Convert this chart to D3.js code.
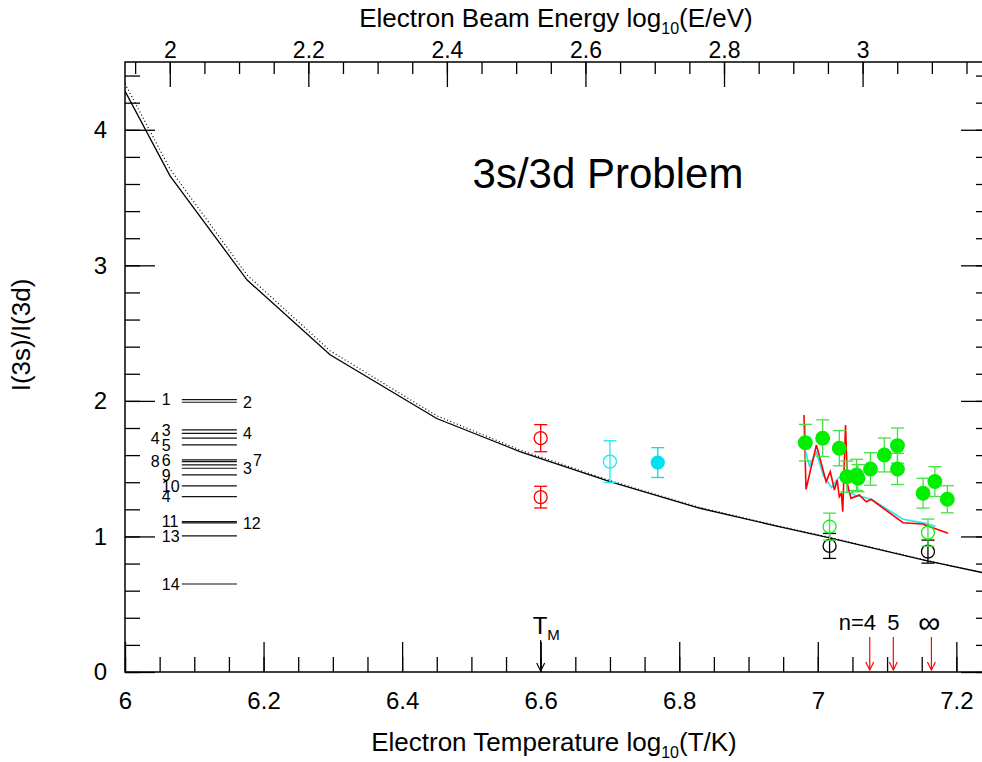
<!DOCTYPE html>
<html>
<head>
<meta charset="utf-8">
<script src="https://cdn.jsdelivr.net/npm/d3@7"></script>
<style>
body { margin: 0; background: #fff; }
text { font-family: "Liberation Sans", Arial, sans-serif; fill: #000; }
</style>
</head>
<body>
<script>
// tick labels
var bottomTicks = [6, 6.2, 6.4, 6.6, 6.8, 7, 7.2];
var topTicks = [2, 2.2, 2.4, 2.6, 2.8, 3];
var leftTicks = [0, 1, 2, 3, 4];

// model curves (log T, ratio)
var modelT = [6.0, 6.065, 6.176, 6.296, 6.45, 6.57, 6.7, 6.83, 6.944, 7.017, 7.158, 7.25];
var modelSolid = [4.285, 3.66, 2.893, 2.34, 1.87, 1.626, 1.404, 1.208, 1.072, 0.99, 0.82, 0.72];
var modelDotted = [4.34, 3.71, 2.93, 2.37, 1.89, 1.638, 1.412, 1.213, 1.076, 0.993, 0.822, 0.72];

var redT = [6.980, 6.983, 6.998, 7.012, 7.018, 7.024, 7.028, 7.031, 7.034, 7.036, 7.040, 7.043, 7.048, 7.060, 7.070, 7.077, 7.123, 7.151, 7.188];
var redV = [1.896, 1.348, 1.675, 1.404, 1.478, 1.343, 1.416, 1.293, 1.318, 1.183, 1.822, 1.379, 1.281, 1.306, 1.256, 1.274, 1.101, 1.092, 1.023];
var cyanT = [6.981, 6.988, 6.998, 7.008, 7.020, 7.028, 7.040, 7.044, 7.055, 7.070, 7.080, 7.123, 7.152, 7.170];
var cyanV = [1.65, 1.52, 1.62, 1.45, 1.36, 1.42, 1.48, 1.33, 1.30, 1.285, 1.265, 1.127, 1.10, 1.075];

// measurements
var redOpenT = [6.6, 6.6], redOpenV = [1.725, 1.29], redOpenE = [0.1, 0.08];
var cyanOpenT = [6.7], cyanOpenV = [1.552], cyanOpenE = [0.154];
var cyanFillT = [6.769], cyanFillV = [1.545], cyanFillE = [0.11];
var greenFillT = [6.982, 7.007, 7.031, 7.042, 7.056, 7.058, 7.076, 7.096, 7.115, 7.115, 7.152, 7.169, 7.187];
var greenFillV = [1.692, 1.725, 1.651, 1.441, 1.454, 1.43, 1.498, 1.601, 1.67, 1.498, 1.319, 1.405, 1.274];
var greenFillE = [0.135, 0.135, 0.13, 0.115, 0.115, 0.1, 0.12, 0.125, 0.13, 0.115, 0.11, 0.11, 0.10];
var greenOpenT = [7.017, 7.159], greenOpenV = [1.072, 1.028], greenOpenE = [0.1, 0.1];
var blackOpenT = [7.017, 7.159], blackOpenV = [0.93, 0.888], blackOpenE = [0.092, 0.085];

// calculated ratios shown as short level lines
var levelNames = ["1", "2", "3", "4", "4", "5", "6", "8", "7", "3", "9", "10", "4", "11", "12", "13", "14"];
var levelValues = [2.01, 1.99, 1.786, 1.76, 1.725, 1.675, 1.565, 1.552, 1.528, 1.503, 1.454, 1.373, 1.294, 1.11, 1.10, 1.004, 0.649];
var levelSides = ["L", "R", "L", "R", "L", "L", "L", "L", "R", "R", "L", "L", "L", "L", "R", "L", "L"];
var levelSpan = [6.082, 6.1615];

// series limits
var seriesNames = ["4", "5", "\u221e"];
var seriesT = [7.075, 7.109, 7.164];
var tMax = 6.6;

var logK = Math.log10(8.617333e-5); // E = kT

var svg = d3.select("body").append("svg")//
.attr("width", 982)//
.attr("height", 762);

var x = d3.scaleLinear().domain([6, 7.25]).range([125, 991]);
var xTop = d3.scaleLinear().domain([6 + logK, 7.25 + logK]).range([125, 991]);
var y = d3.scaleLinear().domain([0, 4.5]).range([672, 62]);

var fmt = d3.format("~g");

function styleAxis(g, size) {
	g.select(".domain").remove();
	g.selectAll(".tick line").attr("stroke", "#000").attr("stroke-width", 1.3);
	g.selectAll(".tick text").attr("font-size", size + "px").attr("fill", "#000")//
	.attr("font-family", "'Liberation Sans', Arial, sans-serif");
}

// bottom
svg.append("g").attr("transform", "translate(0,672)")//
.call(d3.axisBottom(x).tickValues(x.ticks(25)).tickSize(-15).tickFormat(""))//
.call(styleAxis, 24);
svg.append("g").attr("transform", "translate(0,672)")//
.call(d3.axisBottom(x).tickValues(bottomTicks).tickSize(-30).tickPadding(20).tickFormat(fmt))//
.call(styleAxis, 24);
// top
svg.append("g").attr("transform", "translate(0,62)")//
.call(d3.axisTop(xTop).tickValues(xTop.ticks(25)).tickSize(-12).tickFormat(""))//
.call(styleAxis, 23);
svg.append("g").attr("transform", "translate(0,62)")//
.call(d3.axisTop(xTop).tickValues(topTicks).tickSize(-25).tickPadding(4).tickFormat(fmt))//
.call(styleAxis, 23);
// left
svg.append("g").attr("transform", "translate(125,0)")//
.call(d3.axisLeft(y).tickValues(y.ticks(20)).tickSize(-15).tickFormat(""))//
.call(styleAxis, 24);
svg.append("g").attr("transform", "translate(125,0)")//
.call(d3.axisLeft(y).tickValues(leftTicks).tickSize(-30).tickPadding(18).tickFormat(fmt))//
.call(styleAxis, 24);
// right
svg.append("g").attr("transform", "translate(991,0)")//
.call(d3.axisRight(y).tickValues(y.ticks(20)).tickSize(-15).tickFormat(""))//
.call(styleAxis, 24);
svg.append("g").attr("transform", "translate(991,0)")//
.call(d3.axisRight(y).tickValues(leftTicks).tickSize(-30).tickFormat(""))//
.call(styleAxis, 24);

svg.append("rect")//
.attr("x", x(6)).attr("y", y(4.5))//
.attr("width", x(7.25) - x(6)).attr("height", y(0) - y(4.5))//
.attr("fill", "none").attr("stroke", "#000").attr("stroke-width", 1.5);

// axis titles
var bt = svg.append("text").attr("x", 554).attr("y", 751).attr("text-anchor", "middle").attr("font-size", "26px");
bt.append("tspan").text("Electron Temperature log");
bt.append("tspan").attr("font-size", "16px").attr("dy", 7).text("10");
bt.append("tspan").attr("dy", -7).text("(T/K)");

var tt = svg.append("text").attr("x", 556).attr("y", 27).attr("text-anchor", "middle").attr("font-size", "26px");
tt.append("tspan").text("Electron Beam Energy log");
tt.append("tspan").attr("font-size", "16px").attr("dy", 7).text("10");
tt.append("tspan").attr("dy", -7).text("(E/eV)");

svg.append("text")//
.attr("transform", "translate(30,335) rotate(-90)")//
.attr("text-anchor", "middle").attr("font-size", "26px")//
.text("I(3s)/I(3d)");

svg.append("text").attr("x", 608).attr("y", 188).attr("text-anchor", "middle")//
.attr("font-size", "42px").text("3s/3d Problem");

var plot = svg.append("g");
plot.append("clipPath").attr("id", "clip").append("rect")//
.attr("x", x(6)).attr("y", y(4.5)).attr("width", x(7.25) - x(6)).attr("height", y(0) - y(4.5));

function series(ts, vs) {
	return ts.map(function(t, i) {
		return [t, vs[i]];
	});
}

var line = d3.line().x(function(d) {
	return x(d[0]);
}).y(function(d) {
	return y(d[1]);
});

var curves = plot.append("g").attr("clip-path", "url(#clip)");
curves.append("path").attr("d", line(series(modelT, modelDotted)))//
.attr("fill", "none").attr("stroke", "#000").attr("stroke-width", 1.2).attr("stroke-dasharray", "1,2.5");
curves.append("path").attr("d", line(series(modelT, modelSolid)))//
.attr("fill", "none").attr("stroke", "#000").attr("stroke-width", 1.3);
curves.append("path").attr("d", line(series(cyanT, cyanV)))//
.attr("fill", "none").attr("stroke", "#22e6f0").attr("stroke-width", 1.6);
curves.append("path").attr("d", line(series(redT, redV)))//
.attr("fill", "none").attr("stroke", "#ff0000").attr("stroke-width", 1.6);

// level lines with their labels
var lv = plot.append("g");
var x0 = x(levelSpan[0]), x1 = x(levelSpan[1]);
var lastL = null;
levelValues.forEach(function(v, i) {
	var yy = y(v);
	lv.append("line").attr("x1", x0).attr("x2", x1).attr("y1", yy).attr("y2", yy)//
	.attr("stroke", "#111").attr("stroke-width", 1.2);
	var t = lv.append("text").attr("font-size", "16px").attr("dy", "0.36em").text(levelNames[i]);
	if (levelSides[i] == "L") {
		// crowded labels move further left
		if (lastL != null && Math.abs(yy - lastL) < 9.5) {
			t.attr("x", x0 - 31).attr("y", yy);
		} else {
			t.attr("x", x0 - 20).attr("y", yy);
			lastL = yy;
		}
	} else {
		var next = null;
		for (var j = i + 1; j < levelValues.length; j++) {
			if (levelSides[j] == "R") {
				next = y(levelValues[j]);
				break;
			}
		}
		if (next != null && Math.abs(next - yy) < 9.5) {
			t.attr("x", x1 + 16).attr("y", yy - 5);
		} else {
			t.attr("x", x1 + 6).attr("y", yy);
		}
	}
});

// measurements with error bars
function points(ts, vs, es, color, barColor, filled, r) {
	var g = plot.append("g");
	var data = ts.map(function(t, i) {
		return {
			t : t,
			v : vs[i],
			e : es[i]
		};
	});
	var sel = g.selectAll(".pt").data(data).enter().append("g").attr("class", "pt");
	sel.append("line")//
	.attr("x1", function(d) { return x(d.t); })//
	.attr("x2", function(d) { return x(d.t); })//
	.attr("y1", function(d) { return y(d.v + d.e); })//
	.attr("y2", function(d) { return y(d.v - d.e); })//
	.attr("stroke", barColor).attr("stroke-width", 1.3);
	[1, -1].forEach(function(s) {
		sel.append("line")//
		.attr("x1", function(d) { return x(d.t) - 6.5; })//
		.attr("x2", function(d) { return x(d.t) + 6.5; })//
		.attr("y1", function(d) { return y(d.v + s * d.e); })//
		.attr("y2", function(d) { return y(d.v + s * d.e); })//
		.attr("stroke", barColor).attr("stroke-width", 1.3);
	});
	sel.append("circle")//
	.attr("cx", function(d) { return x(d.t); })//
	.attr("cy", function(d) { return y(d.v); })//
	.attr("r", r)//
	.attr("fill", filled ? color : "none")//
	.attr("stroke", color).attr("stroke-width", 1.3);
}

points(blackOpenT, blackOpenV, blackOpenE, "#000", "#000", false, 6.5);
points(greenOpenT, greenOpenV, greenOpenE, "#11ee11", "#44e044", false, 6.5);
points(redOpenT, redOpenV, redOpenE, "#ff0000", "#ff0000", false, 6.5);
points(cyanOpenT, cyanOpenV, cyanOpenE, "#22e6f0", "#22e6f0", false, 6.5);
points(cyanFillT, cyanFillV, cyanFillE, "#00e0ee", "#00e0ee", true, 6.5);
points(greenFillT, greenFillV, greenFillE, "#00ee00", "#44e044", true, 6.8);

// arrows
function arrow(g, xx, yTop, yBot, color) {
	g.append("line").attr("x1", xx).attr("x2", xx).attr("y1", yTop).attr("y2", yBot - 1)//
	.attr("stroke", color).attr("stroke-width", 1.2);
	g.append("path")//
	.attr("d", "M" + (xx - 4) + "," + (yBot - 9) + "L" + xx + "," + (yBot - 1) + "L" + (xx + 4) + "," + (yBot - 9))//
	.attr("fill", "none").attr("stroke", color).attr("stroke-width", 1.2);
}

var ann = plot.append("g");
arrow(ann, x(tMax), 640, y(0), "#000");
var tm = ann.append("text").attr("x", x(tMax) - 8).attr("y", 634).attr("font-size", "24px");
tm.append("tspan").text("T");
tm.append("tspan").attr("font-size", "15px").attr("dy", 6).text("M");

seriesT.forEach(function(t, i) {
	arrow(ann, x(t), 637, y(0) - 1, "#ff0000");
	var big = seriesNames[i] == "\u221e";
	ann.append("text").attr("x", x(t) - (big ? 2 : 0)).attr("y", big ? 633 : 630)//
	.attr("text-anchor", "middle").attr("font-size", big ? "31px" : "22px")//
	.text(seriesNames[i]);
	if (i == 0) {
		ann.append("text").attr("x", x(t) - 6).attr("y", 630)//
		.attr("text-anchor", "end").attr("font-size", "22px").text("n=");
	}
});
</script>
</body>
</html>
